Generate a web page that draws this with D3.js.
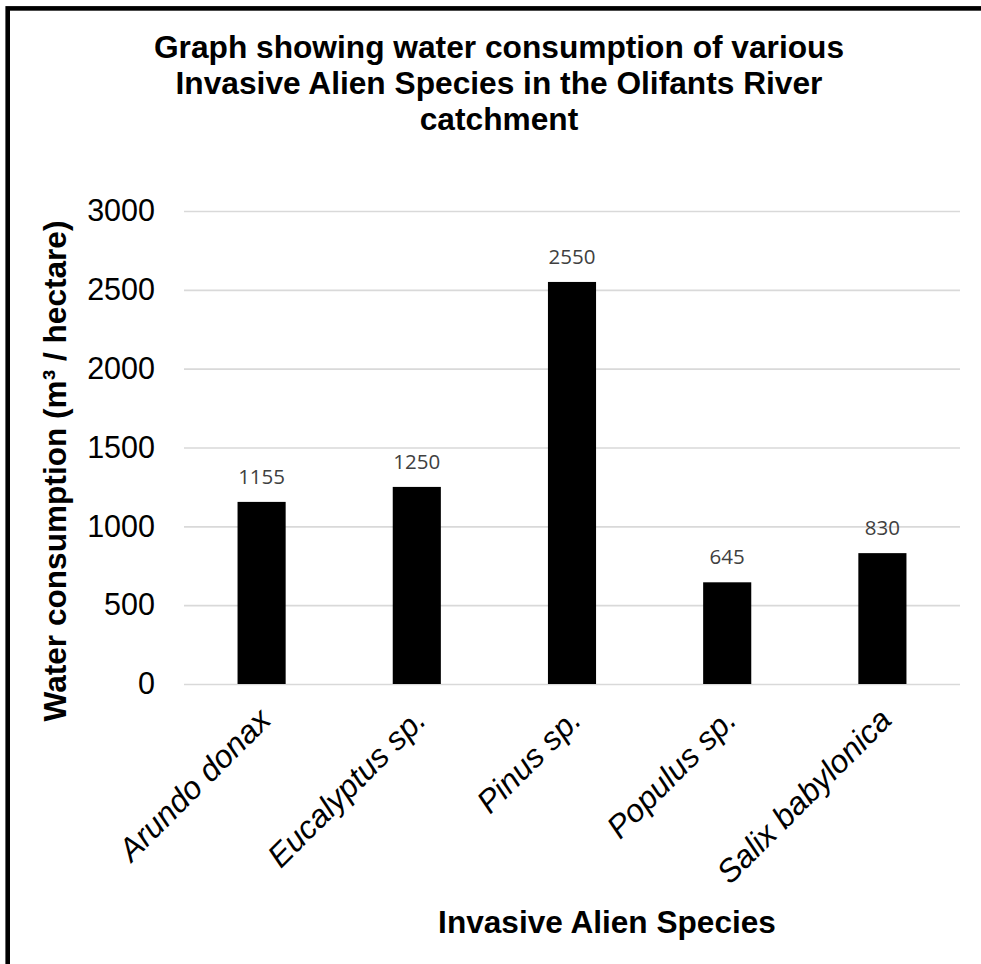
<!DOCTYPE html>
<html>
<head>
<meta charset="utf-8">
<script src="https://cdn.jsdelivr.net/npm/d3@7"></script>
<style>
  html, body { margin: 0; padding: 0; background: #fff; }
  svg { display: block; }
</style>
</head>
<body>
<svg id="chart" width="981" height="964"></svg>
<script>
// ---- data ----
const categories = ["Arundo donax", "Eucalyptus sp.", "Pinus sp.", "Populus sp.", "Salix babylonica"];
const values = [1155, 1250, 2550, 645, 830];
const yTicks = [0, 500, 1000, 1500, 2000, 2500, 3000];
const titleLines = ["Graph showing water consumption of various", "Invasive Alien Species in the Olifants River", "catchment"];
const xTitle = "Invasive Alien Species";
const yTitle = "Water consumption (m\u00B3 / hectare)";

const W = 981, H = 964;
const plot = { left: 184, right: 960, top: 211, bottom: 684 };
const svg = d3.select("#chart");
const ARIAL = "'Liberation Sans', Arial, sans-serif";

// border (cropped at right and bottom)
svg.append("rect")
  .attr("x", 7.7).attr("y", 8.4)
  .attr("width", 1100).attr("height", 1100)
  .attr("fill", "none").attr("stroke", "#000").attr("stroke-width", 4.6);

const x = d3.scaleBand().domain(categories)
  .range([plot.left, plot.right])
  .paddingInner(0.69).paddingOuter(0.345);
const y = d3.scaleLinear().domain([0, 3000]).range([plot.bottom, plot.top]);

// gridlines + y tick labels via axis
const yAxis = d3.axisLeft(y).tickValues(yTicks).tickSize(-(plot.right - plot.left)).tickPadding(29).tickFormat(d3.format("d"));
const gy = svg.append("g").attr("transform", `translate(${plot.left},0)`).call(yAxis);
gy.select(".domain").remove();
gy.selectAll(".tick line").attr("stroke", "#d9d9d9").attr("stroke-width", 1.6);
gy.selectAll(".tick text")
  .attr("font-family", ARIAL).attr("font-size", 30.5).attr("fill", "#000");

// bars
svg.append("g").selectAll("rect").data(values).join("rect")
  .attr("x", (d, i) => x(categories[i]))
  .attr("y", d => y(d))
  .attr("width", x.bandwidth())
  .attr("height", d => y(0) - y(d))
  .attr("fill", "#000");

// data labels
svg.append("g").selectAll("text").data(values).join("text")
  .attr("x", (d, i) => x(categories[i]) + x.bandwidth() / 2)
  .attr("y", d => y(d) - 18)
  .attr("text-anchor", "middle")
  .attr("font-family", "'Open Sans', sans-serif")
  .attr("font-size", 20.5)
  .attr("fill", "#404040")
  .text(d => d);

// x axis category labels (rotated)
const xAxis = d3.axisBottom(x).tickSize(0).tickPadding(0);
const gx = svg.append("g").attr("transform", `translate(0,${plot.bottom})`).call(xAxis);
gx.select(".domain").remove();
gx.selectAll(".tick text")
  .attr("font-family", ARIAL).attr("font-size", 32).attr("font-style", "italic")
  .attr("fill", "#000")
  .attr("text-anchor", "end")
  .attr("dy", null).attr("y", null)
  .attr("transform", "translate(11,38) rotate(-45)");

// title
const t = svg.append("text")
  .attr("text-anchor", "middle")
  .attr("font-family", ARIAL).attr("font-size", 31.7).attr("font-weight", "bold")
  .attr("fill", "#000");
titleLines.forEach((line, i) => {
  t.append("tspan").attr("x", 499).attr("y", 58 + i * 36).text(line);
});

// x axis title
svg.append("text")
  .attr("x", 607).attr("y", 933)
  .attr("text-anchor", "middle")
  .attr("font-family", ARIAL).attr("font-size", 31.6).attr("font-weight", "bold")
  .text(xTitle);

// y axis title
svg.append("text")
  .attr("transform", "translate(65.5,471) rotate(-90)")
  .attr("text-anchor", "middle")
  .attr("font-family", ARIAL).attr("font-size", 31.6).attr("font-weight", "bold")
  .text(yTitle);
</script>
</body>
</html>
